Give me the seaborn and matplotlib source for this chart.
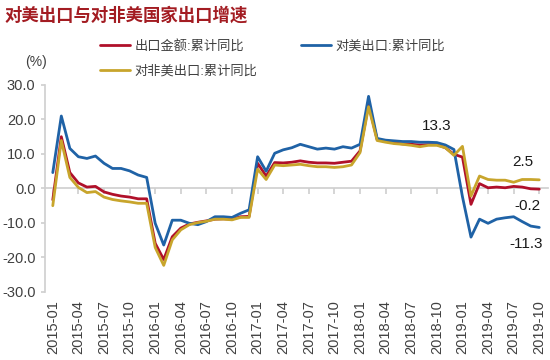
import matplotlib
matplotlib.use("Agg")
import matplotlib.pyplot as plt
from matplotlib.lines import Line2D
import pandas as pd
import seaborn as sns

# monthly cumulative YoY, 2015-01 .. 2019-10
months = pd.date_range("2015-01", "2019-10", freq="MS").strftime("%Y-%m").tolist()

total_exports = [
    -3.3, 15.0, 4.6, 1.6, 0.4, 0.6, -1.0, -1.7, -2.2, -2.5, -3.0, -3.0,
    -15.9, -20.6, -14.0, -11.5, -10.3, -9.8, -9.4, -8.9, -8.8, -8.9, -8.2, -8.1,
    7.3, 3.6, 7.5, 7.4, 7.6, 8.0, 7.6, 7.4, 7.4, 7.3, 7.6, 7.9,
    10.9, 24.4, 14.2, 13.7, 13.2, 12.9, 12.8, 12.6, 12.7, 12.7, 11.8, 9.9,
    9.1, -4.6, 1.4, 0.2, 0.4, 0.2, 0.6, 0.4, -0.1, -0.2,
]
us_exports = [
    4.6, 21.0, 11.6, 9.2, 8.7, 9.4, 7.3, 5.8, 5.8, 5.1, 3.9, 3.2,
    -10.1, -16.4, -9.2, -9.2, -10.1, -10.5, -9.6, -8.2, -8.2, -8.4, -7.2, -6.2,
    9.2, 5.0, 10.2, 11.2, 11.8, 12.8, 12.1, 11.4, 11.7, 11.4, 12.1, 11.7,
    12.8, 26.7, 14.5, 14.0, 13.8, 13.6, 13.6, 13.4, 13.4, 13.3, 12.6, 11.3,
    -2.4, -14.1, -8.9, -10.1, -8.9, -8.5, -8.2, -9.6, -10.9, -11.3,
]
non_us_exports = [
    -5.0, 13.9, 3.2, 0.3, -1.2, -0.9, -2.5, -3.2, -3.6, -3.9, -4.3, -4.3,
    -17.1, -22.3, -14.9, -12.0, -10.5, -9.9, -9.5, -8.9, -8.9, -9.1, -8.4, -8.4,
    5.6, 2.6, 6.8, 6.6, 6.8, 7.0, 6.6, 6.3, 6.3, 6.1, 6.3, 6.8,
    10.4, 23.7, 13.9, 13.4, 13.0, 12.8, 12.5, 12.1, 12.5, 12.5, 11.8, 9.6,
    12.2, -2.2, 3.6, 2.6, 2.4, 2.4, 1.8, 2.6, 2.6, 2.5,
]

series_names = ["出口金额:累计同比", "对美出口:累计同比", "对非美出口:累计同比"]
colors = ["#B0102A", "#1F62A6", "#C8A52C"]

# labelled points: (series index, month, text)
labels = [(1, "2018-10", "13.3"), (2, "2019-10", "2.5"),
          (0, "2019-10", "-0.2"), (1, "2019-10", "-11.3")]


def main() -> None:
    sns.set_theme(style="white")
    plt.rcParams["font.family"] = ["Liberation Sans", "Noto Sans CJK SC"]

    df = pd.DataFrame({
        "month": months * 3,
        "value": total_exports + us_exports + non_us_exports,
        "series": [series_names[0]] * len(months)
        + [series_names[1]] * len(months)
        + [series_names[2]] * len(months),
    })

    fig = plt.figure(figsize=(5.5, 3.6), dpi=100)
    ax = fig.add_axes([0.082, 0.189, 0.914, 0.575])

    sns.lineplot(data=df, x="month", y="value", hue="series", hue_order=series_names,
                 palette=colors, sort=False, linewidth=2.0, legend=False, ax=ax)

    ax.set_ylim(-30, 30)
    ax.set_xlim(-0.9, 58)
    ax.set_yticks(range(-30, 31, 10))
    ax.set_yticklabels([f"{v:.1f}" for v in range(-30, 31, 10)])
    ax.set_xticks(range(0, len(months), 3))
    ax.set_xticklabels(months[::3], rotation=90)
    ax.tick_params(axis="x", length=0, pad=6, labelsize=10.5, labelcolor="#404040")
    ax.tick_params(axis="y", length=3, color="#d0d0d0", pad=4, labelsize=10.5,
                   labelcolor="#404040", left=True)
    ax.set_xlabel("")
    ax.set_ylabel("")
    for s in ["top", "right", "bottom"]:
        ax.spines[s].set_visible(False)
    ax.spines["left"].set_color("#d0d0d0")

    # zero line with tick marks, labels stay at the bottom
    zero_axis = ax.secondary_xaxis(0.5)
    zero_axis.set_xticks(range(0, len(months), 3))
    zero_axis.tick_params(direction="in", length=4, color="#d0d0d0", labeltop=False,
                          labelbottom=False)
    zero_axis.spines["top"].set_color("#d0d0d0")

    series_vals = [total_exports, us_exports, non_us_exports]
    offsets = {"13.3": (0, 17), "2.5": (-16, 18), "-0.2": (-12, -17), "-11.3": (-13, -17)}
    for si, m, txt in labels:
        i = months.index(m)
        ax.annotate(txt, xy=(i, series_vals[si][i]), xytext=offsets[txt],
                    textcoords="offset pixels", ha="center", va="center",
                    fontsize=11, color="#1a1a1a")

    fig.text(0.008, 0.958, "对美出口与对非美国家出口增速", fontsize=12.5, fontweight="bold",
             color="#A31C22", va="center", ha="left")
    fig.text(0.045, 0.828, "(%)", fontsize=10, color="#404040", va="center", ha="left")

    handles = [Line2D([], [], color=colors[0], lw=2),
               Line2D([], [], color=colors[2], lw=2),
               Line2D([], [], color=colors[1], lw=2)]
    fig.legend(handles, [series_names[0], series_names[2], series_names[1]],
               ncol=2, loc="upper left", bbox_to_anchor=(0.182, 0.89), frameon=False,
               fontsize=9.5, handlelength=2.3, handletextpad=0.3, columnspacing=3.3,
               labelspacing=0.95, borderaxespad=0, borderpad=0, labelcolor="#404040")

    fig.savefig("out.png", dpi=100)
    plt.close(fig)


if __name__ == "__main__":
    main()
